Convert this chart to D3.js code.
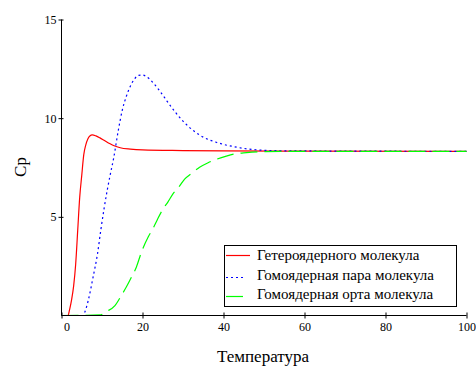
<!DOCTYPE html>
<html><head><meta charset="utf-8">
<script src="https://cdn.jsdelivr.net/npm/d3@7"></script>
</head><body style="margin:0">
<svg id="c" width="476" height="371"></svg>
<script>
const xTicks = [0, 20, 40, 60, 80, 100];
const yTicks = [5, 10, 15];
const xTitle = "Температура";
const yTitle = "Cp";
const seriesNames = ["Гетероядерного молекула", "Гомоядерная пара молекула", "Гомоядерная орта молекула"];

const heteroT  = [0, 1.6, 2, 2.5, 3, 3.5, 4, 4.5, 5, 5.5, 6, 6.5, 7, 7.6, 8.5, 9.5, 10.5, 12, 13, 14.5, 17, 20, 30, 40, 60, 100];
const heteroCp = [0, 0, 0.3, 0.8, 1.5, 2.6, 4.3, 6.0, 7.1, 8.15, 8.65, 8.95, 9.1, 9.15, 9.1, 9.0, 8.88, 8.7, 8.6, 8.5, 8.43, 8.39, 8.36, 8.34, 8.33, 8.32];

const paraT  = [0, 5.3, 5.75, 6.6, 7.8, 8.9, 9.7, 10.5, 11.3, 12, 12.9, 14, 15, 16, 17, 18, 19, 20, 21, 22, 23, 24, 25, 26, 27, 28, 29, 30, 31, 32, 33, 34, 35, 36, 37, 38, 39, 40, 42, 44, 46, 48, 50, 54, 60, 100];
const paraCp = [0, 0, 0.17, 0.76, 1.95, 3.14, 4.32, 5.4, 6.36, 7.1, 8.0, 9.35, 10.4, 11.1, 11.62, 11.98, 12.17, 12.19, 12.1, 11.93, 11.7, 11.45, 11.17, 10.88, 10.6, 10.33, 10.08, 9.85, 9.65, 9.46, 9.3, 9.16, 9.04, 8.94, 8.86, 8.79, 8.73, 8.67, 8.58, 8.5, 8.44, 8.4, 8.37, 8.35, 8.34, 8.32];

const orthoT  = [0, 9.5, 11.1, 13.2, 14.8, 16, 17.3, 18.5, 19.75, 21.4, 22.6, 23.6, 24.9, 26.3, 27.6, 29, 30.4, 32.1, 34.1, 36.2, 38.3, 40.7, 42.8, 45.7, 49.7, 55, 100];
const orthoCp = [0, 0.03, 0.2, 0.5, 1.02, 1.44, 1.95, 2.46, 3.22, 3.98, 4.41, 4.83, 5.34, 5.76, 6.19, 6.52, 6.91, 7.2, 7.51, 7.74, 7.92, 8.08, 8.19, 8.25, 8.3, 8.32, 8.32];

const colors = ["#ff0000", "#0000ff", "#00ff00"];
const dashes = [null, "2,3", "17,7"];
const FAMILY = '"Times New Roman", Tinos, "Nimbus Roman", "Liberation Serif", FreeSerif, serif';

const svg = d3.select("#c");
const x = d3.scaleLinear().domain([0, 100]).range([61.5, 466.5]);
const y = d3.scaleLinear().domain([0, 15]).range([315.5, 19.5]);

const series = [
  heteroT.map((t, i) => [t, heteroCp[i]]),
  paraT.map((t, i) => [t, paraCp[i]]),
  orthoT.map((t, i) => [t, orthoCp[i]])
];

const line = d3.line().x(d => x(d[0])).y(d => y(d[1])).curve(d3.curveMonotoneX);

series.forEach((s, i) => {
  svg.append("path").attr("d", line(s)).attr("fill", "none")
    .attr("stroke", colors[i]).attr("stroke-width", 1.2)
    .attr("stroke-dasharray", dashes[i]);
});

function serif(sel, size) {
  sel.style("font-family", FAMILY).style("font-size", size + "px").attr("fill", "#000");
}

// axes
const xAxis = svg.append("g").attr("transform", "translate(0,315.5)")
  .call(d3.axisBottom(x).tickValues(xTicks).tickSizeInner(3).tickSizeOuter(0).tickPadding(4));
xAxis.selectAll(".tick line").attr("y1", -3).attr("y2", 3);
xAxis.selectAll(".tick text").attr("dx", d => d === 0 ? 5 : 0);
xAxis.select(".domain").attr("d", `M${x(0)},0H${x(100)}`);

const yAxis = svg.append("g").attr("transform", "translate(61.5,0)")
  .call(d3.axisLeft(y).tickValues(yTicks).tickSizeInner(3).tickSizeOuter(0).tickPadding(2));
yAxis.selectAll(".tick line").attr("x1", -3).attr("x2", 2);
yAxis.select(".domain").attr("d", `M0,${y(15)}V${y(0)}`);

[xAxis, yAxis].forEach(g => {
  serif(g.selectAll("text"), 12);
  g.selectAll("line,path").attr("stroke", "#000").attr("stroke-width", 1);
});

// titles
serif(svg.append("text").attr("x", 263).attr("y", 362).attr("text-anchor", "middle").text(xTitle), 17);
serif(svg.append("text").attr("transform", "translate(26,167) rotate(-90)").attr("text-anchor", "middle").text(yTitle), 17);

// legend
const lg = svg.append("g");
lg.append("rect").attr("x", 224.5).attr("y", 245.5).attr("width", 232).attr("height", 61)
  .attr("fill", "#fff").attr("stroke", "#000").attr("stroke-width", 1);
const ly = [255.5, 277.5, 296.5];
seriesNames.forEach((n, i) => {
  lg.append("line").attr("x1", 226).attr("x2", i === 0 ? 250 : (i === 1 ? 246 : 244))
    .attr("y1", ly[i]).attr("y2", ly[i]).attr("stroke", colors[i]).attr("stroke-width", 1.2)
    .attr("stroke-dasharray", dashes[i]);
  serif(lg.append("text").attr("x", 257).attr("y", [260, 280, 299][i]).text(n), 15);
});
</script>
</body></html>
